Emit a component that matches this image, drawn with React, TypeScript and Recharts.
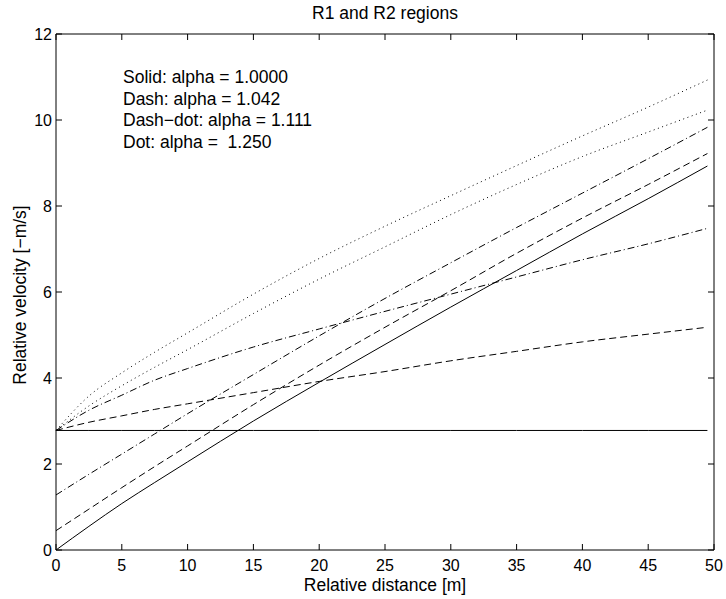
import React from "react";
import { LineChart, Line, XAxis, YAxis } from "recharts";

// distance along x [m] at which the curves were read
const distance = [0, 2.5, 5, 7.5, 10, 15, 20, 25, 30, 35, 40, 45, 49.5];

// alpha = 1.0000 (solid)
const solidFlat = [2.78, 2.78, 2.78, 2.78, 2.78, 2.78, 2.78, 2.78, 2.78, 2.78, 2.78, 2.78, 2.78];
const solidRise = [0, 0.55, 1.08, 1.57, 2.05, 3.0, 3.9, 4.78, 5.65, 6.5, 7.35, 8.17, 8.93];
// alpha = 1.042 (dash)
const dashLow = [2.78, 2.97, 3.12, 3.27, 3.4, 3.66, 3.92, 4.15, 4.4, 4.62, 4.84, 5.02, 5.18];
const dashRise = [0.45, 0.95, 1.45, 1.94, 2.42, 3.38, 4.3, 5.18, 6.03, 6.9, 7.72, 8.5, 9.22];
// alpha = 1.111 (dash-dot)
const dashDotLow = [2.78, 3.25, 3.6, 3.95, 4.22, 4.72, 5.14, 5.55, 5.95, 6.35, 6.75, 7.12, 7.48];
const dashDotRise = [1.28, 1.76, 2.23, 2.7, 3.17, 4.08, 4.98, 5.85, 6.68, 7.5, 8.3, 9.1, 9.83];
// alpha = 1.250 (dot)
const dotLow = [2.78, 3.35, 3.82, 4.25, 4.66, 5.5, 6.3, 7.05, 7.8, 8.5, 9.15, 9.72, 10.23];
const dotHigh = [2.78, 3.58, 4.12, 4.6, 5.05, 5.95, 6.78, 7.53, 8.24, 8.94, 9.63, 10.3, 10.93];

const xTicks = [0, 5, 10, 15, 20, 25, 30, 35, 40, 45, 50];
const yTicks = [0, 2, 4, 6, 8, 10, 12];

const notes = [
  "Solid: alpha = 1.0000",
  "Dash: alpha = 1.042",
  "Dash\u2212dot: alpha = 1.111",
  "Dot: alpha =  1.250",
];

const rows = distance.map((d, i) => ({
  d,
  solidFlat: solidFlat[i],
  solidRise: solidRise[i],
  dashLow: dashLow[i],
  dashRise: dashRise[i],
  dashDotLow: dashDotLow[i],
  dashDotRise: dashDotRise[i],
  dotLow: dotLow[i],
  dotHigh: dotHigh[i],
}));

const FONT = "'Liberation Sans', Arial, Helvetica, sans-serif";
const DASH = "7 4";
const DASHDOT = "7 3 1 3";
const DOT = "1 3.5";
const TICK_LEN = 6;
const TICK_FONT = 16;
const LABEL_FONT = 17.5;

// MATLAB style ticks: short marks pointing into the plot box
const BottomTick = (p: any) => (
  <g>
    <line x1={p.x} x2={p.x} y1={p.y} y2={p.y - TICK_LEN} stroke="#000" />
    <text x={p.x} y={p.y + 20.7} textAnchor="middle" fontSize={TICK_FONT} fontFamily={FONT} fill="#000">
      {p.payload.value}
    </text>
  </g>
);
const LeftTick = (p: any) => (
  <g>
    <line x1={p.x} x2={p.x + TICK_LEN} y1={p.y} y2={p.y} stroke="#000" />
    <text x={p.x - 4} y={p.y + 5.7} textAnchor="end" fontSize={TICK_FONT} fontFamily={FONT} fill="#000">
      {p.payload.value}
    </text>
  </g>
);
const TopTick = (p: any) => <line x1={p.x} x2={p.x} y1={p.y} y2={p.y + TICK_LEN} stroke="#000" />;
const RightTick = (p: any) => <line x1={p.x} x2={p.x - TICK_LEN} y1={p.y} y2={p.y} stroke="#000" />;

export default function App() {
  const lineProps = {
    type: "monotone" as const,
    stroke: "#000",
    strokeWidth: 1,
    dot: false,
    activeDot: false,
    isAnimationActive: false,
    xAxisId: "b",
    yAxisId: "l",
  };

  return (
    <div
      style={{
        position: "absolute",
        left: 0,
        top: 0,
        width: 726,
        height: 599,
        background: "#fff",
        fontFamily: FONT,
      }}
    >
      <LineChart
        width={726}
        height={599}
        data={rows}
        margin={{ top: 33, right: 11, bottom: 0, left: 0 }}
      >
        <XAxis
          xAxisId="b"
          dataKey="d"
          type="number"
          domain={[0, 50]}
          ticks={xTicks}
          height={49}
          stroke="#000"
          tickLine={false}
          tickSize={0}
          tickMargin={0}
          tick={BottomTick}
        />
        <XAxis
          xAxisId="t"
          orientation="top"
          dataKey="d"
          type="number"
          domain={[0, 50]}
          ticks={xTicks}
          height={1}
          stroke="#000"
          tickLine={false}
          tickSize={0}
          tickMargin={0}
          tick={TopTick}
        />
        <YAxis
          yAxisId="l"
          type="number"
          domain={[0, 12]}
          ticks={yTicks}
          width={56}
          stroke="#000"
          tickLine={false}
          tickSize={0}
          tickMargin={0}
          tick={LeftTick}
        />
        <YAxis
          yAxisId="r"
          orientation="right"
          type="number"
          domain={[0, 12]}
          ticks={yTicks}
          width={1}
          stroke="#000"
          tickLine={false}
          tickSize={0}
          tickMargin={0}
          tick={RightTick}
        />
        <Line {...lineProps} type="linear" dataKey="solidFlat" xAxisId="t" yAxisId="r" />
        <Line {...lineProps} dataKey="solidRise" />
        <Line {...lineProps} dataKey="dashLow" strokeDasharray={DASH} />
        <Line {...lineProps} dataKey="dashRise" strokeDasharray={DASH} />
        <Line {...lineProps} dataKey="dashDotLow" strokeDasharray={DASHDOT} />
        <Line {...lineProps} dataKey="dashDotRise" strokeDasharray={DASHDOT} />
        <Line {...lineProps} dataKey="dotLow" strokeDasharray={DOT} />
        <Line {...lineProps} dataKey="dotHigh" strokeDasharray={DOT} />
      </LineChart>

      {/* title */}
      <div
        style={{
          position: "absolute",
          left: 185,
          width: 400,
          top: 1,
          lineHeight: "24px",
          textAlign: "center",
          fontSize: LABEL_FONT,
        }}
      >
        R1 and R2 regions
      </div>

      {/* alpha notes */}
      {notes.map((t, i) => (
        <div
          key={t}
          style={{
            position: "absolute",
            left: 123,
            top: 65 + i * 21.5,
            lineHeight: "24px",
            fontSize: LABEL_FONT,
            whiteSpace: "pre",
          }}
        >
          {t}
        </div>
      ))}

      {/* x label */}
      <div
        style={{
          position: "absolute",
          left: 185,
          width: 400,
          top: 573,
          lineHeight: "24px",
          textAlign: "center",
          fontSize: LABEL_FONT,
        }}
      >
        Relative distance [m]
      </div>

      {/* y label */}
      <div
        style={{
          position: "absolute",
          left: 20 - 150,
          top: 295 - 12,
          width: 300,
          lineHeight: "24px",
          textAlign: "center",
          fontSize: LABEL_FONT,
          transform: "rotate(-90deg)",
        }}
      >
        Relative velocity [{"\u2212"}m/s]
      </div>
    </div>
  );
}
